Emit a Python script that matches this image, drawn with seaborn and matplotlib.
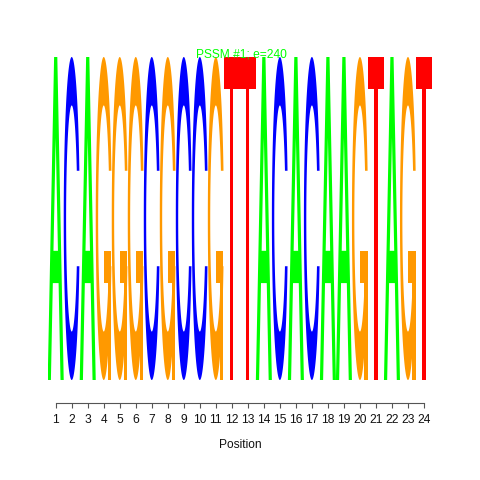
import numpy as np
import matplotlib
matplotlib.use("Agg")
import matplotlib.pyplot as plt
import seaborn as sns
from matplotlib.patches import Polygon

# ---- data ----
positions = list(range(1, 25))
letters = ["A", "C", "A", "G", "G", "G", "C", "G", "C", "C", "G", "T",
           "T", "A", "C", "A", "C", "A", "A", "G", "T", "A", "G", "T"]
heights = [2.0] * 24
tick_labels = [str(p) for p in positions]
title = "PSSM #1; e=240"
xlabel = "Position"
palette = {"A": "#00FF00", "C": "#0000FF", "G": "#FF9900", "T": "#FF0000"}

sns.set_theme(style="white")
plt.rcParams["font.family"] = ["Liberation Sans", "DejaVu Sans"]


def c_shape():
    a1 = np.linspace(0.3 + np.pi / 2, np.pi, 100)
    a2 = np.linspace(np.pi, 1.5 * np.pi, 100)
    xl = np.concatenate([0.5 + 0.5 * np.sin(a1), 0.5 + 0.5 * np.sin(a2)])
    yl1 = 0.5 + 0.5 * np.cos(a1)
    yl = np.concatenate([yl1, 0.5 + 0.5 * np.cos(a2)])
    x = np.concatenate([xl, xl[::-1]])
    y = np.concatenate([yl, 1 - yl[::-1]])
    xi1 = 0.5 + 0.35 * np.sin(a1)
    yi1 = 0.5 + 0.35 * np.cos(a1)
    keep = yi1 <= yl1.max()
    xi1 = xi1[keep]
    yi1 = yi1[keep]
    yi1[0] = yl1.max()
    xi2 = 0.5 + 0.35 * np.sin(a2)
    yi2 = 0.5 + 0.35 * np.cos(a2)
    xi = np.concatenate([xi1, xi2])
    yi = np.concatenate([yi1, yi2])
    x1 = np.concatenate([xi, xi[::-1]])
    y1 = np.concatenate([yi, 1 - yi[::-1]])
    x = np.concatenate([x, x1[::-1]])
    y = np.concatenate([y, y1[::-1]])
    r1 = (0.5 + 0.5 * np.sin(a1)).max()
    return x, y, r1


def letter_shapes(ch):
    """return list of (x, y, fillkind) in unit box"""
    if ch == "A":
        x = 0.1 * np.array([0, 4, 6, 10, 8, 6.8, 3.2, 2, 0])
        y = 0.1 * np.array([0, 10, 10, 0, 0, 3, 3, 0, 0])
        hx = 0.1 * np.array([3.6, 5, 6.4, 3.6])
        hy = 0.1 * np.array([4, 7.5, 4, 4])
        return [(x, y, "col"), (hx, hy, "white")]
    if ch == "T":
        x = 0.1 * np.array([0, 10, 10, 6, 6, 4, 4, 0])
        y = 0.1 * np.array([10, 10, 9, 9, 0, 0, 9, 9])
        return [(x, y, "col")]
    x, y, r1 = c_shape()
    if ch == "C":
        return [(x, y, "col")]
    h1 = 0.4
    xa = np.array([r1, 0.5, 0.5, r1 - 0.2, r1 - 0.2, r1, r1])
    ya = np.array([h1, h1, h1 - 0.1, h1 - 0.1, 0, 0, h1])
    return [(x, y, "col"), (xa, ya, "col")]


W, H = 480, 480
fig = plt.figure(figsize=(4.8, 4.8), dpi=100)
left_px, right_px = 47.7, 432.0
top_px, bot_px = 57.0, 380.0
ax = fig.add_axes([left_px / W, 1 - bot_px / H,
                   (right_px - left_px) / W, (bot_px - top_px) / H])
ax.set_xlim(0.5, 24.5)
ax.set_ylim(0, 2)
ax.patch.set_alpha(0)

for pos, ch, h in zip(positions, letters, heights):
    for sx, sy, kind in letter_shapes(ch):
        col = palette[ch] if kind == "col" else "white"
        xs = pos - 0.5 + sx
        ys = sy * h
        ax.add_patch(Polygon(np.column_stack([xs, ys]), closed=True,
                             facecolor=col, edgecolor="none", lw=0))

sns.despine(ax=ax, left=True, top=True, right=True, bottom=False)
ax.spines["bottom"].set_position(("outward", 23 * 72 / 100))
ax.spines["bottom"].set_bounds(1, 24)
ax.spines["bottom"].set_color("#555555")
ax.spines["bottom"].set_linewidth(0.8)
ax.set_yticks([])
ax.set_xticks(positions)
ax.set_xticklabels(tick_labels, fontsize=8.64, color="#111111")
ax.tick_params(axis="x", direction="out", length=5 * 0.72, width=0.8,
               color="#555555", pad=4.2, bottom=True)
ax.grid(False)

fig.text(241 / W, 1 - 57.3 / H, title, ha="center", va="baseline",
         fontsize=8.64, color="#00FF00", zorder=10)
fig.text(240 / W, 1 - 445 / H, xlabel, ha="center", va="center",
         fontsize=8.64, color="#111111")

fig.savefig("out.png", dpi=100, facecolor="white")
